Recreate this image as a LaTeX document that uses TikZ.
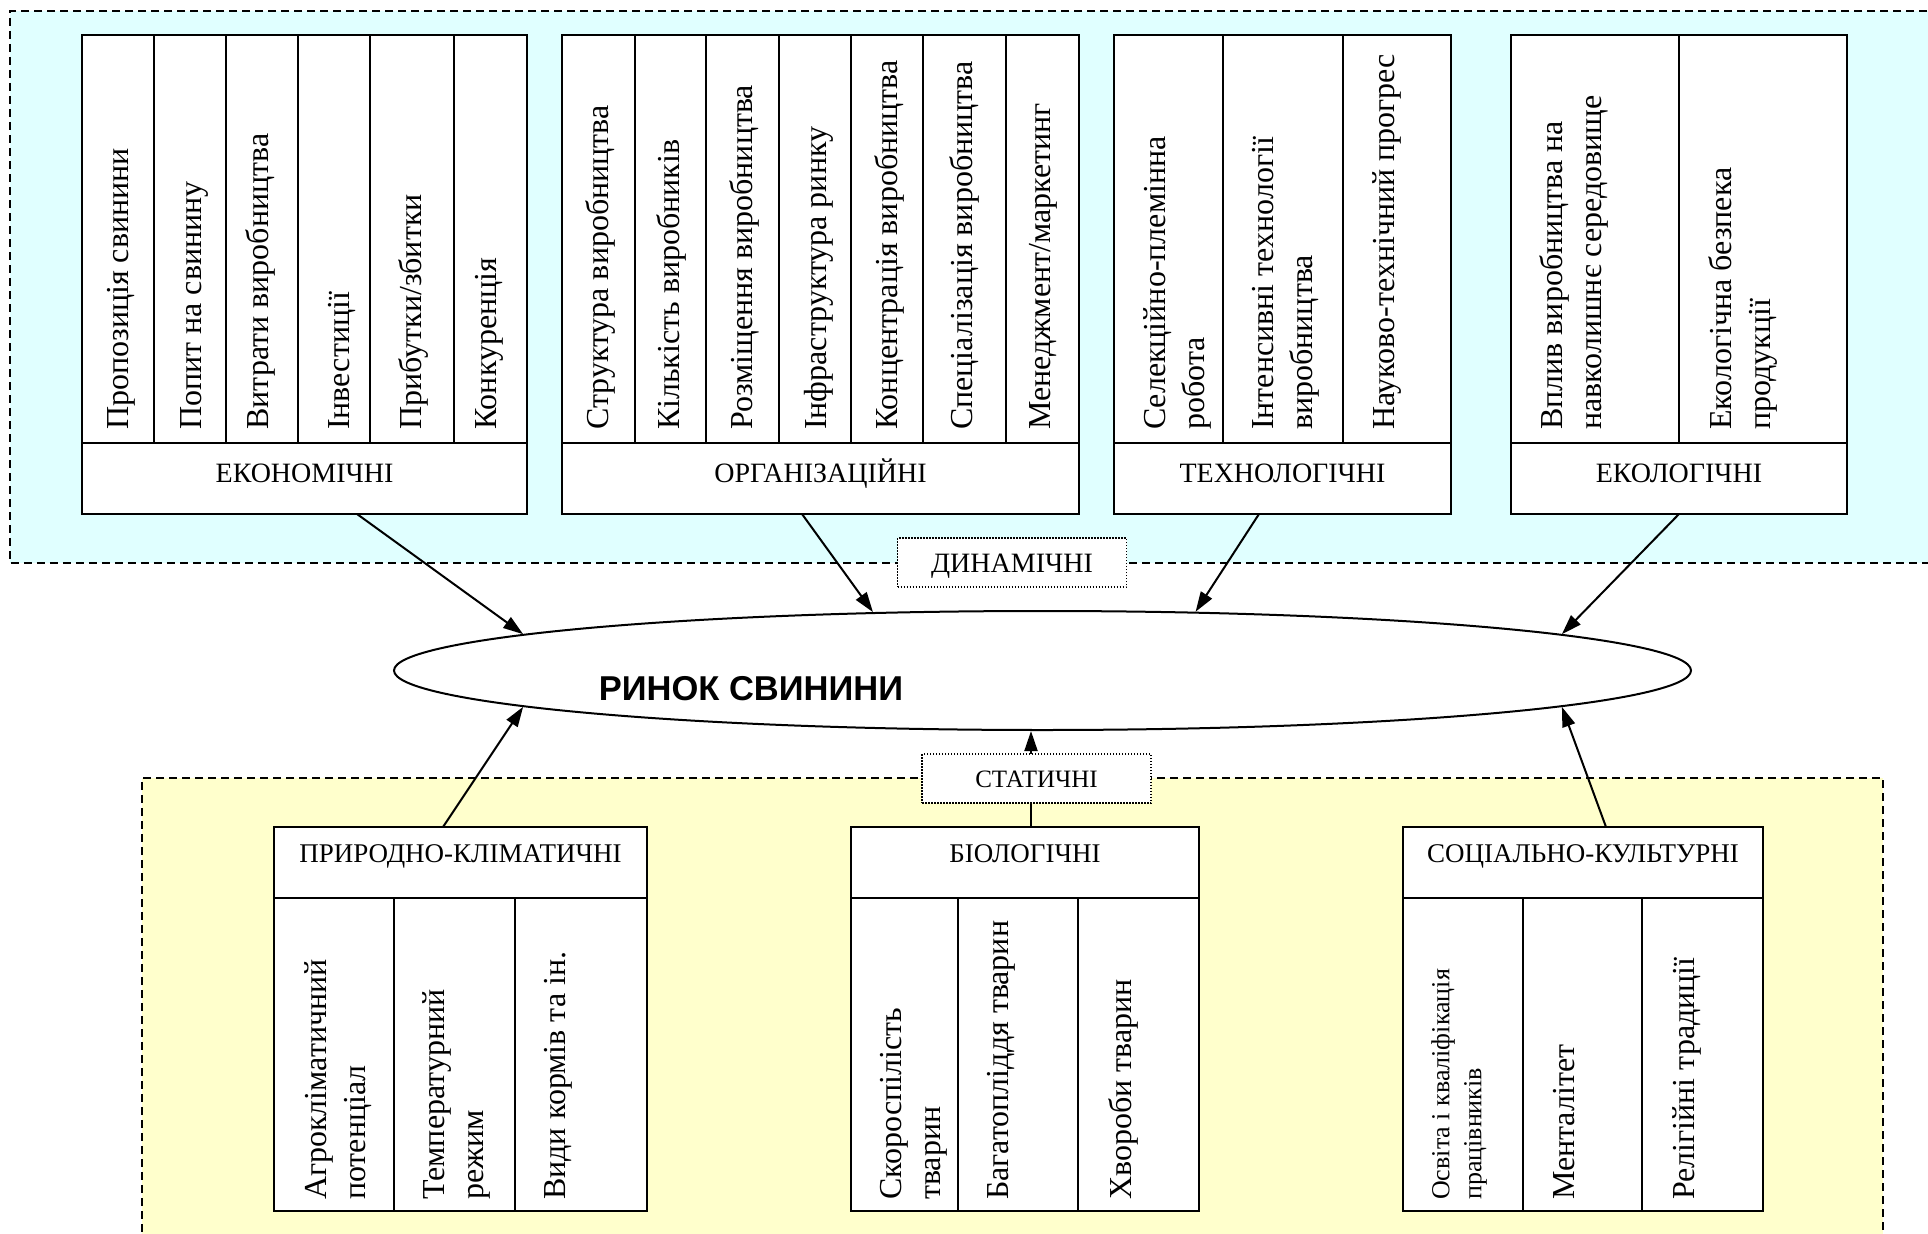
\documentclass[tikz,border=0pt]{standalone}
\usepackage{fontspec}
\setmainfont{Liberation Serif}
\newfontfamily\marketfont{Liberation Sans}
\usetikzlibrary{arrows.meta,shapes.geometric}
\definecolor{dyncol}{RGB}{224,255,255}
\definecolor{statcol}{RGB}{255,255,204}
\tikzset{
  region/.style={draw=black,line width=1.6pt,dash pattern=on 8pt off 5pt},
  cell/.style={draw=black,line width=2pt,fill=white,inner sep=0pt,outer sep=0pt},
  cellbox/.style n args={4}{cell,minimum width={(#2)-(#1)},minimum height={(#4)-(#3)},at={({((#1)+(#2))/2},{((#3)+(#4))/2})}},
  coltxt/.style={rotate=90,anchor=north west,inner sep=0pt,align=left,font=\fontsize{32}{39}\selectfont},
  smalltxt/.style={coltxt,font=\fontsize{26}{32}\selectfont},
  tophdr/.style={font=\fontsize{28}{34}\selectfont,text height=19pt,text depth=12pt},
  bothdr/.style={font=\fontsize{27}{33}\selectfont,text height=18pt,text depth=18pt},
  tag/.style={draw=black,fill=white,line width=1.5pt,dash pattern=on 1.5pt off 1.5pt,minimum width=229pt,minimum height=49pt,inner sep=0pt},
  arr/.style={line width=2pt,-{Triangle[length=20pt,width=13pt]}}
}
\begin{document}
\begin{tikzpicture}[x=1pt,y=-1pt]
\useasboundingbox (0,0) rectangle (1928,1234);
\fill[white] (0,0) rectangle (1928,1234);
% regions
\fill[dyncol] (10,11) rectangle (1940,563);
\draw[region] (1940,11) -- (10,11) -- (10,563) -- (1940,563);
\fill[statcol] (142,778) rectangle (1883,1245);
\draw[region] (142,1245) -- (142,778) -- (1883,778) -- (1883,1245);

% ---------- ECONOMIC ----------
\node[cellbox={82}{154}{35}{443}] (e1) {};
\node[cellbox={154}{226}{35}{443}] (e2) {};
\node[cellbox={226}{298}{35}{443}] (e3) {};
\node[cellbox={298}{370}{35}{443}] (e4) {};
\node[cellbox={370}{454}{35}{443}] (e5) {};
\node[cellbox={454}{527}{35}{443}] (e6) {};
\node[cellbox={82}{527}{443}{514},tophdr] (econ) {ЕКОНОМІЧНІ};
\node[coltxt] (e1t) at ([xshift=25pt,yshift=13pt]e1.south west) {Пропозиція свинини};
\node[coltxt] (e2t) at ([xshift=26pt,yshift=13pt]e2.south west) {Попит на свинину};
\node[coltxt] (e3t) at ([xshift=19pt,yshift=13pt]e3.south west) {Витрати виробництва};
\node[coltxt] (e4t) at ([xshift=30pt,yshift=13pt]e4.south west) {Інвестиції};
\node[coltxt] (e5t) at ([xshift=28pt,yshift=13pt]e5.south west) {Прибутки/збитки};
\node[coltxt] (e6t) at ([xshift=21pt,yshift=13pt]e6.south west) {Конкуренція};

% ---------- ORGANIZATIONAL ----------
\node[cellbox={562}{635}{35}{443}] (o1) {};
\node[cellbox={635}{706}{35}{443}] (o2) {};
\node[cellbox={706}{779}{35}{443}] (o3) {};
\node[cellbox={779}{851}{35}{443}] (o4) {};
\node[cellbox={851}{923}{35}{443}] (o5) {};
\node[cellbox={923}{1006}{35}{443}] (o6) {};
\node[cellbox={1006}{1079}{35}{443}] (o7) {};
\node[cellbox={562}{1079}{443}{514},tophdr] (org) {ОРГАНІЗАЦІЙНІ};
\node[coltxt] (o1t) at ([xshift=23pt,yshift=13pt]o1.south west) {Структура виробництва};
\node[coltxt] (o2t) at ([xshift=21pt,yshift=13pt]o2.south west) {Кількість виробників};
\node[coltxt] (o3t) at ([xshift=23pt,yshift=13pt]o3.south west) {Розміщення виробництва};
\node[coltxt] (o4t) at ([xshift=25pt,yshift=13pt]o4.south west) {Інфраструктура ринку};
\node[coltxt] (o5t) at ([xshift=23pt,yshift=13pt]o5.south west) {Концентрація виробництва};
\node[coltxt] (o6t) at ([xshift=26pt,yshift=13pt]o6.south west) {Спеціалізація виробництва};
\node[coltxt] (o7t) at ([xshift=23pt,yshift=13pt]o7.south west) {Менеджмент/маркетинг};

% ---------- TECHNOLOGICAL ----------
\node[cellbox={1114}{1223}{35}{443}] (t1) {};
\node[cellbox={1223}{1343}{35}{443}] (t2) {};
\node[cellbox={1343}{1451}{35}{443}] (t3) {};
\node[cellbox={1114}{1451}{443}{514},tophdr] (tech) {ТЕХНОЛОГІЧНІ};
\node[coltxt] (t1t) at ([xshift=29pt,yshift=13pt]t1.south west) {Селекційно-племінна\\робота};
\node[coltxt] (t2t) at ([xshift=29pt,yshift=13pt]t2.south west) {Інтенсивні технології\\виробництва};
\node[coltxt] (t3t) at ([xshift=29pt,yshift=13pt]t3.south west) {Науково-технічний прогрес};

% ---------- ECOLOGICAL ----------
\node[cellbox={1511}{1679}{35}{443}] (k1) {};
\node[cellbox={1679}{1847}{35}{443}] (k2) {};
\node[cellbox={1511}{1847}{443}{514},tophdr] (eco) {ЕКОЛОГІЧНІ};
\node[coltxt] (k1t) at ([xshift=28pt,yshift=13pt]k1.south west) {Вплив виробництва на\\навколишнє середовище};
\node[coltxt] (k2t) at ([xshift=29pt,yshift=13pt]k2.south west) {Екологічна безпека\\продукції};

% ---------- NATURAL-CLIMATIC ----------
\node[cellbox={274}{647}{827}{898},bothdr] (pk) {ПРИРОДНО-КЛІМАТИЧНІ};
\node[cellbox={274}{394}{898}{1211}] (p1) {};
\node[cellbox={394}{515}{898}{1211}] (p2) {};
\node[cellbox={515}{647}{898}{1211}] (p3) {};
\node[coltxt] (p1t) at ([xshift=30pt,yshift=11pt]p1.south west) {Агрокліматичний\\потенціал};
\node[coltxt] (p2t) at ([xshift=28pt,yshift=11pt]p2.south west) {Температурний\\режим};
\node[coltxt] (p3t) at ([xshift=29pt,yshift=11pt]p3.south west) {Види кормів та ін.};

% ---------- BIOLOGICAL ----------
\node[cellbox={851}{1199}{827}{898},bothdr] (bio) {БІОЛОГІЧНІ};
\node[cellbox={851}{958}{898}{1211}] (b1) {};
\node[cellbox={958}{1078}{898}{1211}] (b2) {};
\node[cellbox={1078}{1199}{898}{1211}] (b3) {};
\node[coltxt] (b1t) at ([xshift=29pt,yshift=11pt]b1.south west) {Скороспілість\\тварин};
\node[coltxt] (b2t) at ([xshift=29pt,yshift=11pt]b2.south west) {Багатопліддя тварин};
\node[coltxt] (b3t) at ([xshift=30pt,yshift=11pt]b3.south west) {Хвороби тварин};

% ---------- SOCIO-CULTURAL ----------
\node[cellbox={1403}{1763}{827}{898},bothdr] (soc) {СОЦІАЛЬНО-КУЛЬТУРНІ};
\node[cellbox={1403}{1523}{898}{1211}] (s1) {};
\node[cellbox={1523}{1642}{898}{1211}] (s2) {};
\node[cellbox={1642}{1763}{898}{1211}] (s3) {};
\node[smalltxt] (s1t) at ([xshift=28pt,yshift=11pt]s1.south west) {Освіта і кваліфікація\\працівників};
\node[coltxt] (s2t) at ([xshift=30pt,yshift=11pt]s2.south west) {Менталітет};
\node[coltxt] (s3t) at ([xshift=30pt,yshift=11pt]s3.south west) {Релігійні традиції};

% ---------- MARKET ----------
\node[ellipse,draw=black,line width=2pt,fill=white,minimum width=1297pt,minimum height=119pt,inner sep=0pt] (market) at (1042.5,670.5) {};
\node[anchor=base,inner sep=0pt,font=\marketfont\bfseries\fontsize{34.5}{40}\selectfont] (marketlbl) at (751,700) {РИНОК СВИНИНИ};

% ---------- ARROWS ----------
\draw[arr] ([xshift=52.5pt]econ.south) -- (market.176);
\draw[arr] ([xshift=-18.5pt]org.south) -- (market.161.5);
\draw[arr] ([xshift=-23.5pt]tech.south) -- (market.21);
\draw[arr] (eco.south) -- (market.4.1);
\draw[arr] ([xshift=-17.5pt]pk.north) -- (market.184);
\coordinate (biostart) at ([xshift=6pt]bio.north);
\draw[arr] (biostart) -- (biostart |- market.south);
\draw[arr] ([xshift=23pt]soc.north) -- (market.356);

% ---------- TAGS ----------
\node[tag,font=\fontsize{28}{34}\selectfont,text height=19pt,text depth=0pt] (dyn) at (1012,562.5) {ДИНАМІЧНІ};
\node[tag,font=\fontsize{25}{30}\selectfont,text height=17pt,text depth=0pt] (stat) at (1036.5,778.5) {СТАТИЧНІ};
\end{tikzpicture}
\end{document}
